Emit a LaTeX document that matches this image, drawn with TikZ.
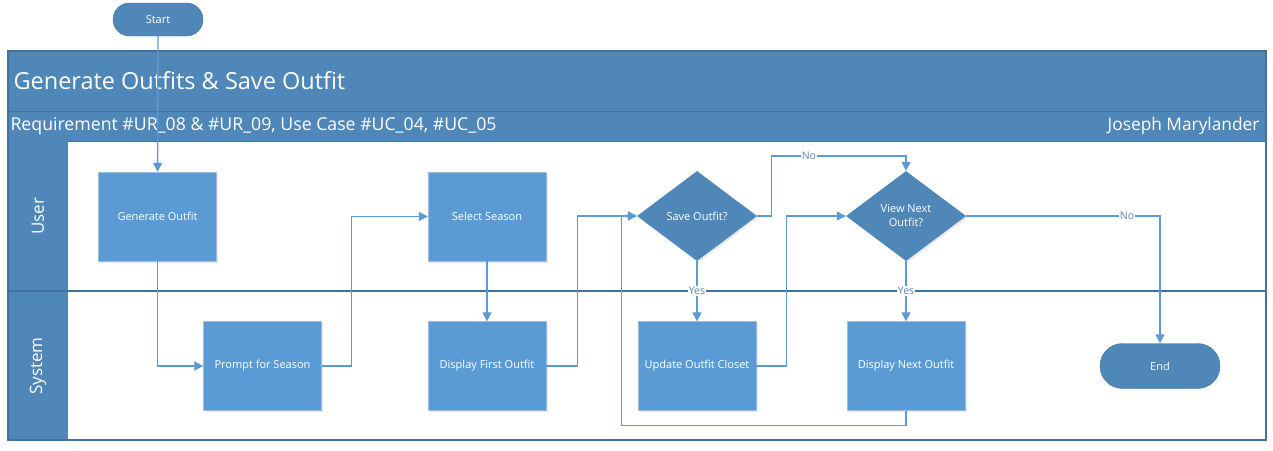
\documentclass[tikz,border=0pt]{standalone}
\usepackage{fontspec}
\setmainfont{Open Sans}
\usetikzlibrary{positioning,shapes.geometric,arrows.meta,shadows}
\definecolor{laneblue}{RGB}{79,135,185}
\definecolor{boxblue}{RGB}{91,155,213}
\definecolor{edgeblue}{RGB}{65,113,156}
\definecolor{boxline}{RGB}{160,190,220}
\definecolor{lbltext}{RGB}{95,130,180}

\begin{document}
\begin{tikzpicture}[x=1pt,y=-1pt,
    proc/.style={draw=boxline,fill=boxblue,minimum width=118,minimum height=89,text=white,
        font=\fontsize{11}{13}\selectfont,drop shadow={opacity=0.18,shadow xshift=1.5pt,shadow yshift=-1.5pt}},
    decision/.style={diamond,fill=laneblue,minimum width=120,minimum height=90,inner sep=0,text=white,
        align=center,font=\fontsize{11}{14}\selectfont,drop shadow={opacity=0.18,shadow xshift=1.5pt,shadow yshift=-1.5pt}},
    term/.style={draw=edgeblue,fill=laneblue,rounded corners=16.5,minimum width=90,minimum height=33,text=white,
        font=\fontsize{11}{13}\selectfont},
    flow/.style={draw=boxblue,line width=1.3,-{Triangle[length=9pt,width=9pt]}},
    lbl/.style={fill=white,inner sep=1,text=lbltext,font=\fontsize{10.5}{12}\selectfont}]
    \useasboundingbox (0,0) rectangle (1273,450);
    % pool and lanes
    \fill [laneblue] (8,51) rectangle (1266,141);
    \fill [laneblue] (8,141) rectangle (68,440);
    \draw [edgeblue,line width=1.5] (8,51) rectangle (1266,440);
    \draw [edgeblue,line width=1] (8,111) -- (1266,111);
    \draw [edgeblue,line width=1] (68,141) -- (1266,141);
    \draw [edgeblue,line width=2] (8,291) -- (1266,291);
    \node [anchor=west,text=white,font=\fontsize{23.5}{28}\selectfont] (title) at (10,81) {Generate Outfits \& Save Outfit};
    \node [anchor=west,text=white,font=\fontsize{17.7}{21}\selectfont] (req) at (7,126) {Requirement \#UR\_08 \& \#UR\_09, Use Case \#UC\_04, \#UC\_05};
    \node [anchor=east,text=white,font=\fontsize{17.3}{21}\selectfont] (author) at (1263,126) {Joseph Marylander};
    \node [rotate=90,text=white,font=\fontsize{17}{20}\selectfont] (user) at (38,216) {User};
    \node [rotate=90,text=white,font=\fontsize{17}{20}\selectfont] (system) at (38,366) {System};
    % shapes
    \node [term] (start) at (158,19.5) {Start};
    \node [proc] (gen) at (157.5,216.5) {Generate Outfit};
    \node [proc] (prompt) at (262.5,366) {Prompt for Season};
    \node [proc] (select) at (487,216.5) {Select Season};
    \node [proc] (disp1) at (487,366) {Display First Outfit};
    \node [decision] (save) at (697,216) {Save Outfit?};
    \node [decision] (vnext) at (906,216) {View Next\\Outfit?};
    \node [proc] (update) at (697,366) {Update Outfit Closet};
    \node [proc] (dnext) at (906,366) {Display Next Outfit};
    \node [term,minimum width=120,minimum height=45,rounded corners=22.5] (end) at (1160,366) {End};
    % connectors
    \draw [flow] (start) -- (gen);
    \draw [flow] (gen) |- (prompt);
    \draw [flow] (prompt.east) -- ++(30,0) |- (select);
    \draw [flow] (select) -- (disp1);
    \draw [flow] (disp1.east) -- ++(31,0) |- (save);
    \draw [flow] (save.east) -- ++(14,0) -- ++(0,-60) -| (vnext) node [lbl,pos=0.14] {No};
    \draw [flow] (save) -- (update) node [lbl,midway] {Yes};
    \draw [flow] (update.east) -- ++(30,0) |- (vnext);
    \draw [flow] (vnext) -- (dnext) node [lbl,midway] {Yes};
    \draw [flow] (vnext) -| (end) node [lbl,pos=0.415] {No};
    \draw [flow] (dnext.south) -- ++(0,15) -| ([xshift=-15pt]save.west) -- (save.west);
\end{tikzpicture}
\end{document}
